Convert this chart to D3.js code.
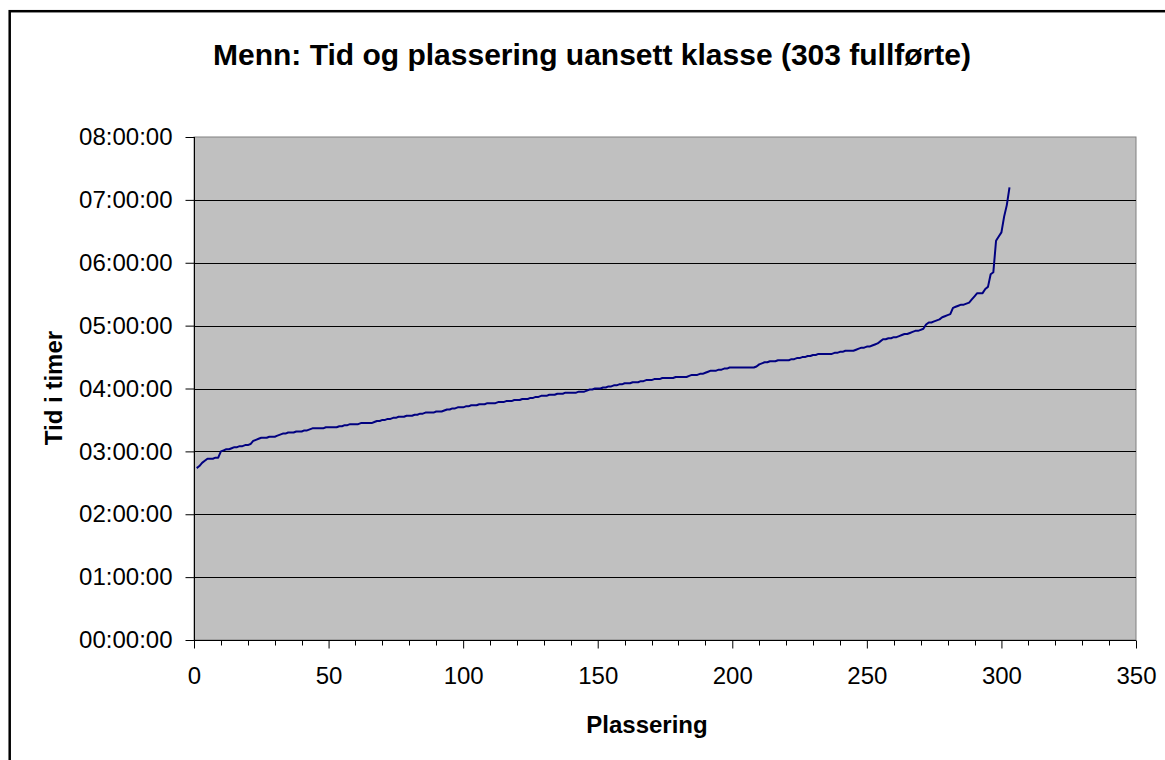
<!DOCTYPE html>
<html><head><meta charset="utf-8">
<script src="https://cdn.jsdelivr.net/npm/d3@7"></script>
<style>
html,body{margin:0;padding:0;background:#fff;}
svg{display:block;font-family:"Liberation Sans",Arial,sans-serif;}
</style></head>
<body><svg id="c" width="1165" height="760"></svg>
<script>
// Finishing time (minutes) for each placement 1..303
const times = [
164,166,169,171,173,173,173,174,174,180,
181,182,182,183,184,184,185,185,186,186,
187,190,191,192,193,193,193,194,194,194,
195,196,197,197,198,198,198,199,199,199,
200,200,201,202,202,202,202,202,203,203,
203,203,203,204,204,205,205,206,206,206,
206,207,207,207,207,207,208,209,209,210,
210,211,211,212,212,213,213,213,214,214,
214,215,215,216,216,217,217,217,217,218,
218,218,219,220,220,221,221,222,222,222,
223,223,224,224,224,225,225,225,226,226,
226,226,227,227,227,228,228,228,229,229,
229,230,230,230,231,231,232,232,233,233,
233,234,234,234,235,235,235,236,236,236,
236,236,237,237,237,238,239,239,240,240,
240,241,241,242,242,243,243,244,244,245,
245,245,246,246,246,247,247,248,248,248,
249,249,249,250,250,250,250,250,251,251,
251,251,251,252,253,253,253,254,254,255,
256,257,257,257,258,258,259,259,260,260,
260,260,260,260,260,260,260,260,261,263,
264,265,265,266,266,266,267,267,267,267,
267,268,268,269,269,270,270,271,271,272,
272,273,273,273,273,273,273,274,274,275,
275,276,276,276,276,277,278,279,279,280,
280,281,282,283,285,287,287,288,288,289,
289,290,291,292,292,293,294,295,295,296,
297,301,303,303,304,305,306,308,309,310,
311,317,318,319,320,320,321,322,325,328,
331,331,331,335,337,349,351,381,385,389,
404,415,432];
const placements = times.map((t,i)=>i+1);
const yTicks = [0,60,120,180,240,300,360,420,480];
const yTickLabels = ["00:00:00","01:00:00","02:00:00","03:00:00","04:00:00","05:00:00","06:00:00","07:00:00","08:00:00"];
const xTicks = [0,50,100,150,200,250,300,350];
const xMinorTicks = d3.range(0,351,10);
const title = "Menn: Tid og plassering uansett klasse (303 fullførte)";
const xTitle = "Plassering";
const yTitle = "Tid i timer";

const svg = d3.select("#c");
const L=194, R=1136, T=137, B=640;
const x = d3.scaleLinear().domain([0,350]).range([L,R]);
const y = d3.scaleLinear().domain([0,480]).range([B,T]);

// outer chart border (extends beyond the picture on right/bottom)
svg.append("rect").attr("x",9.7).attr("y",11.2).attr("width",1200).attr("height",800)
  .attr("fill","#fff").attr("stroke","#000").attr("stroke-width",2.5);

// plot area
svg.append("rect").attr("x",L).attr("y",T).attr("width",R-L).attr("height",B-T)
  .attr("fill","#c0c0c0").attr("stroke","#808080").attr("stroke-width",1);

// gridlines
svg.append("g").selectAll("line").data(yTicks.filter(d=>d>0&&d<480)).join("line")
  .attr("x1",L).attr("x2",R).attr("y1",d=>Math.round(y(d))+0.5).attr("y2",d=>Math.round(y(d))+0.5)
  .attr("stroke","#000").attr("stroke-width",1);

// line
const line = d3.line().x((d,i)=>x(placements[i])).y(d=>y(d));
svg.append("path").datum(times).attr("d",line).attr("fill","none")
  .attr("stroke","#000080").attr("stroke-width",2).attr("stroke-linejoin","round");

// y axis
const ya = svg.append("g").attr("transform",`translate(${L+0.5},0)`)
  .call(d3.axisLeft(y).tickValues(yTicks).tickFormat((d,i)=>yTickLabels[i]).tickSize(9).tickPadding(13));
ya.select(".domain").attr("stroke","#000").attr("d",`M0,${T}V${B}`);
ya.selectAll(".tick line").attr("stroke","#000");
ya.selectAll("text").attr("font-size",24).attr("fill","#000").attr("font-family","Liberation Sans, Arial, sans-serif");

// x axis
const xa = svg.append("g").attr("transform",`translate(0,${B+0.5})`)
  .call(d3.axisBottom(x).tickValues(xTicks).tickSize(8).tickPadding(18));
xa.select(".domain").attr("stroke","#000").attr("d",`M${L},0H${R}`);
xa.selectAll(".tick line").attr("stroke","#000");
xa.selectAll("text").attr("font-size",24).attr("fill","#000").attr("font-family","Liberation Sans, Arial, sans-serif");
svg.append("g").selectAll("line").data(xMinorTicks.filter(d=>d%50!==0)).join("line")
  .attr("x1",d=>Math.round(x(d))+0.5).attr("x2",d=>Math.round(x(d))+0.5)
  .attr("y1",B).attr("y2",B+5.5).attr("stroke","#000");

// titles
svg.append("text").attr("x",213).attr("y",65).attr("font-size",30).attr("font-weight","bold").text(title);
svg.append("text").attr("x",647).attr("y",733).attr("text-anchor","middle").attr("font-size",24).attr("font-weight","bold").text(xTitle);
svg.append("text").attr("transform","translate(62,388) rotate(-90)").attr("text-anchor","middle")
  .attr("font-size",24).attr("font-weight","bold").text(yTitle);
</script></body></html>
